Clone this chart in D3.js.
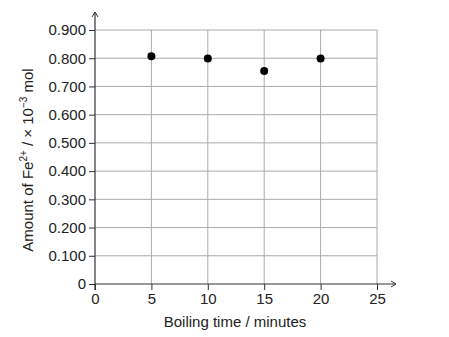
<!DOCTYPE html>
<meta charset="utf-8">
<head>
  <title>Fe2+ vs boiling time</title>
</head>
<style>
body { margin: 0; background: #fff; }
text { font-family: "Liberation Sans", Arial, sans-serif; fill: #222; }
</style>
<body>
<svg width="449" height="337"></svg>
<script src="https://cdn.jsdelivr.net/npm/d3@7"></script>
<script>
var times = [5, 10, 15, 20];
var amounts = [0.807, 0.799, 0.755, 0.799];
var xTicks = [0, 5, 10, 15, 20, 25];
var yTicks = [0, 0.1, 0.2, 0.3, 0.4, 0.5, 0.6, 0.7, 0.8, 0.9];

var svg = d3.select('svg');
var x = d3.scaleLinear().domain([0, 25]).range([95, 377]);
var y = d3.scaleLinear().domain([0, 0.9]).range([284, 30]);

// grid
svg.append('g').selectAll('line')
  .data(xTicks.slice(1)).enter().append('line')
  .attr('x1', function(d) { return x(d); }).attr('x2', function(d) { return x(d); })
  .attr('y1', y(0)).attr('y2', y(0.9))
  .attr('stroke', '#aaa').attr('stroke-width', 1);
svg.append('g').selectAll('line')
  .data(yTicks.slice(1)).enter().append('line')
  .attr('x1', x(0)).attr('x2', x(25))
  .attr('y1', function(d) { return y(d); }).attr('y2', function(d) { return y(d); })
  .attr('stroke', '#aaa').attr('stroke-width', 1);

// axes
var yAxis = d3.axisLeft(y).tickValues(yTicks).tickSize(6).tickPadding(3)
  .tickFormat(function(d) { return d === 0 ? '0' : d3.format('.3f')(d); });
var xAxis = d3.axisBottom(x).tickValues(xTicks).tickSize(6).tickPadding(3);

var gy = svg.append('g').attr('transform', 'translate(' + x(0) + ',0)').call(yAxis);
var gx = svg.append('g').attr('transform', 'translate(0,' + y(0) + ')').call(xAxis);
[gy, gx].forEach(function(g) {
  g.select('.domain').remove();
  g.selectAll('.tick line').attr('stroke', '#333');
  g.selectAll('.tick text').attr('font-size', 15).attr('fill', '#222');
});

// axis lines with arrows
svg.append('line').attr('x1', x(0)).attr('x2', x(0)).attr('y1', y(0) + 6).attr('y2', 12)
  .attr('stroke', '#333').attr('stroke-width', 1.2);
svg.append('path').attr('d', 'M' + (x(0) - 3) + ',17 L' + x(0) + ',12 L' + (x(0) + 3) + ',17')
  .attr('fill', 'none').attr('stroke', '#333');
svg.append('line').attr('x1', x(0)).attr('x2', 396).attr('y1', y(0)).attr('y2', y(0))
  .attr('stroke', '#333').attr('stroke-width', 1.2);
svg.append('path').attr('d', 'M391,' + (y(0) - 3) + ' L396,' + y(0) + ' L391,' + (y(0) + 3))
  .attr('fill', 'none').attr('stroke', '#333');

// points
svg.append('g').selectAll('circle')
  .data(times).enter().append('circle')
  .attr('cx', function(d) { return x(d); })
  .attr('cy', function(d, i) { return y(amounts[i]); })
  .attr('r', 4).attr('fill', '#000');

// titles
svg.append('text').attr('x', 235).attr('y', 327).attr('text-anchor', 'middle')
  .attr('font-size', 15).text('Boiling time / minutes');

var yt = svg.append('text').attr('transform', 'translate(33,160) rotate(-90)')
  .attr('text-anchor', 'middle').attr('font-size', 15);
yt.append('tspan').text('Amount of Fe');
yt.append('tspan').attr('font-size', 10).attr('dy', -6).text('2+');
yt.append('tspan').attr('dy', 6).text(' / \u00d7 10');
yt.append('tspan').attr('font-size', 10).attr('dy', -6).text('\u22123');
yt.append('tspan').attr('dy', 6).text(' mol');
</script>
</body>
</html>
